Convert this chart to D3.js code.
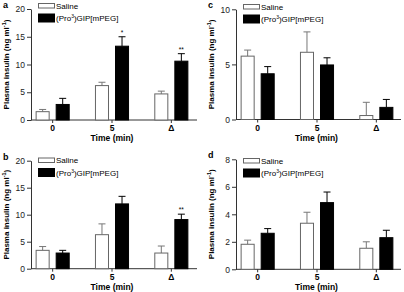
<!DOCTYPE html>
<html>
<head>
<meta charset="utf-8">
<script src="https://cdn.jsdelivr.net/npm/d3@7"></script>
<style>
  body { margin: 0; background: #fff; }
  svg { font-family: "Liberation Sans", Arial, sans-serif; }
</style>
</head>
<body>
<div id="chart"></div>
<script>
// categories and series
const groups = ["0", "5", "Δ"];
const seriesNames = ["Saline", "(Pro3)GIP[mPEG]"];

// panel a
const aSaline = [1.5, 6.2, 4.7];
const aSalineErr = [0.4, 0.6, 0.5];
const aPro = [2.8, 13.3, 10.6];
const aProErr = [1.1, 1.7, 1.35];
const aSig = ["", "*", "**"];

// panel b
const bSaline = [3.4, 6.3, 2.9];
const bSalineErr = [0.7, 2.0, 1.3];
const bPro = [2.9, 12.0, 9.1];
const bProErr = [0.5, 1.4, 1.0];
const bSig = ["", "", "**"];

// panel c
const cSaline = [5.75, 6.1, 0.36];
const cSalineErr = [0.55, 1.85, 1.2];
const cPro = [4.15, 4.95, 1.1];
const cProErr = [0.65, 0.65, 0.72];

// panel d
const dSaline = [1.82, 3.35, 1.53];
const dSalineErr = [0.3, 0.8, 0.47];
const dPro = [2.62, 4.85, 2.3];
const dProErr = [0.34, 0.77, 0.54];

// y tick labels
const abTicks = [0, 5, 10, 15, 20];
const cTicks = [0, 5, 10];
const dTicks = [0, 2, 4, 6, 8];

const svg = d3.select("#chart")
  .append("svg")
  .attr("width", 404)
  .attr("height", 292);

const panels = [
  {label: "a", x0: 31, x1: 197, top: 9, bottom: 120, max: 20, ticks: abTicks,
   saline: aSaline, salineErr: aSalineErr, pro: aPro, proErr: aProErr, sig: aSig, legendTop: 3},
  {label: "b", x0: 31, x1: 197, top: 160.7, bottom: 268.7, max: 20, ticks: abTicks,
   saline: bSaline, salineErr: bSalineErr, pro: bPro, proErr: bProErr, sig: bSig, legendTop: 157.5},
  {label: "c", x0: 236, x1: 401, top: 9.3, bottom: 119.5, max: 10, ticks: cTicks,
   saline: cSaline, salineErr: cSalineErr, pro: cPro, proErr: cProErr, sig: null, legendTop: 4},
  {label: "d", x0: 236, x1: 401, top: 159.3, bottom: 269.3, max: 8, ticks: dTicks,
   saline: dSaline, salineErr: dSalineErr, pro: dPro, proErr: dProErr, sig: null, legendTop: 158}
];

panels.forEach(drawPanel);

function drawPanel(p) {
  const g = svg.append("g");

  // scales
  const x0 = d3.scaleBand()
    .domain(groups)
    .range([p.x0 - 8, p.x0 - 8 + 178]);

  const x1 = d3.scaleBand()
    .domain(seriesNames)
    .range([0, x0.bandwidth()])
    .paddingInner(0.3)
    .paddingOuter(0.63);

  const y = d3.scaleLinear()
    .domain([0, p.max])
    .range([p.bottom, p.top]);

  // y axis
  const yAxis = g.append("g")
    .attr("transform", `translate(${p.x0},0)`)
    .call(d3.axisLeft(y).tickValues(p.ticks).tickSize(4).tickSizeOuter(0).tickPadding(2));
  yAxis.selectAll("text").style("font-size", "8.5px").attr("fill", "#222");
  yAxis.selectAll("line, path").attr("stroke", "#333");

  // x axis
  const xAxis = g.append("g")
    .attr("transform", `translate(0,${p.bottom})`)
    .call(d3.axisBottom(x0).tickSize(3).tickPadding(2));
  xAxis.select(".domain").remove();
  xAxis.append("line")
    .attr("x1", p.x0).attr("x2", p.x1)
    .attr("stroke", "#333");
  xAxis.selectAll("line").attr("stroke", "#333");
  xAxis.selectAll("text")
    .style("font-size", "8.5px")
    .style("font-weight", "bold")
    .attr("fill", "#000");

  g.append("text")
    .attr("x", (p.x0 + p.x1) / 2 - 2)
    .attr("y", p.bottom + 21)
    .attr("text-anchor", "middle")
    .style("font-size", "8.5px")
    .style("font-weight", "bold")
    .text("Time (min)");

  // y title
  const yt = g.append("text")
    .attr("transform", `translate(${p.x0 - 22},${(p.top + p.bottom) / 2}) rotate(-90)`)
    .attr("text-anchor", "middle")
    .style("font-size", "8px")
    .style("font-weight", "bold");
  yt.append("tspan").text("Plasma insulin (ng ml");
  yt.append("tspan").attr("dy", -3).style("font-size", "5.5px").text("-1");
  yt.append("tspan").attr("dy", 3).text(")");

  // panel label
  g.append("text")
    .attr("x", p.x0 - 28)
    .attr("y", p.top - 1)
    .style("font-size", "9px")
    .style("font-weight", "bold")
    .text(p.label);

  // bars
  const rows = groups.map((grp, i) => ({
    grp: grp,
    vals: [
      {s: seriesNames[0], v: p.saline[i], e: p.salineErr[i], sig: ""},
      {s: seriesNames[1], v: p.pro[i], e: p.proErr[i], sig: p.sig ? p.sig[i] : ""}
    ]
  }));

  const grpG = g.selectAll(".grp")
    .data(rows)
    .enter()
    .append("g")
    .attr("transform", d => `translate(${x0(d.grp)},0)`);

  const cell = grpG.selectAll(".cell")
    .data(d => d.vals)
    .enter()
    .append("g");

  // error bars (upper only)
  cell.append("line")
    .attr("x1", d => x1(d.s) + x1.bandwidth() / 2)
    .attr("x2", d => x1(d.s) + x1.bandwidth() / 2)
    .attr("y1", d => y(d.v))
    .attr("y2", d => y(d.v + d.e))
    .attr("stroke", d => d.s === seriesNames[0] ? "#777" : "#000");
  cell.append("line")
    .attr("x1", d => x1(d.s) + x1.bandwidth() / 2 - 3.5)
    .attr("x2", d => x1(d.s) + x1.bandwidth() / 2 + 3.5)
    .attr("y1", d => y(d.v + d.e))
    .attr("y2", d => y(d.v + d.e))
    .attr("stroke", d => d.s === seriesNames[0] ? "#777" : "#000");

  cell.append("rect")
    .attr("x", d => x1(d.s) + 0.5)
    .attr("y", d => y(d.v))
    .attr("width", x1.bandwidth() - 1)
    .attr("height", d => y(0) - y(d.v))
    .attr("fill", d => d.s === seriesNames[0] ? "#fff" : "#000")
    .attr("stroke", d => d.s === seriesNames[0] ? "#666" : "#000");

  cell.filter(d => d.sig)
    .append("text")
    .attr("x", d => x1(d.s) + x1.bandwidth() / 2)
    .attr("y", d => y(d.v + d.e) - 2)
    .attr("text-anchor", "middle")
    .style("font-size", "6.5px")
    .text(d => d.sig);

  // legend
  const lg = g.append("g").attr("transform", `translate(${p.x0 + 7},${p.legendTop})`);
  lg.append("rect")
    .attr("x", 0.5).attr("y", 0.5)
    .attr("width", 16).attr("height", 4.5)
    .attr("fill", "#fff").attr("stroke", "#666");
  lg.append("text")
    .attr("x", 18).attr("y", 5.5)
    .style("font-size", "8px")
    .text(seriesNames[0]);
  lg.append("rect")
    .attr("x", 0).attr("y", 10.5)
    .attr("width", 17).attr("height", 9)
    .attr("fill", "#000");
  const t2 = lg.append("text")
    .attr("x", 18).attr("y", 18)
    .style("font-size", "8px");
  t2.append("tspan").text("(Pro");
  t2.append("tspan").attr("dy", -3).style("font-size", "5px").text("3");
  t2.append("tspan").attr("dy", 3).text(")GIP[mPEG]");
}
</script>
</body>
</html>
